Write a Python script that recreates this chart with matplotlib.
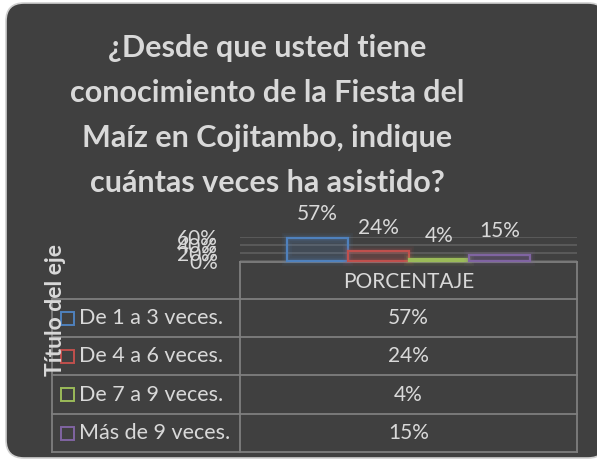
import matplotlib.pyplot as plt
from matplotlib.patches import FancyBboxPatch, Rectangle

# data
categories = ['De 1 a 3 veces.', 'De 4 a 6 veces.', 'De 7 a 9 veces.', 'Más de 9 veces.']
values = [57, 24, 4, 15]
value_labels = ['57%', '24%', '4%', '15%']
colors = ['#4f81bd', '#c0504d', '#9bbb59', '#8064a2']
column_name = 'PORCENTAJE'
y_ticks = [0, 20, 40, 60]
title_lines = ['¿Desde que usted tiene', 'conocimiento de la Fiesta del',
               'Maíz en Cojitambo, indique', 'cuántas veces ha asistido?']

W, H = 597, 461
BG = '#404040'
TXT = '#d9d9d9'
LINE = '#7f7f7f'

plt.rcParams['font.family'] = ['Lato', 'DejaVu Sans']

fig = plt.figure(figsize=(W / 100, H / 100), dpi=100)
fig.patch.set_facecolor('white')

# overlay in pixel coordinates
ov = fig.add_axes([0, 0, 1, 1])
ov.set_xlim(0, W)
ov.set_ylim(H, 0)
ov.axis('off')
ov.add_patch(FancyBboxPatch((6, 3), 600, 455, boxstyle='round,pad=0,rounding_size=18',
                            facecolor=BG, edgecolor='#d0d0d0', linewidth=1.2))

for i, line in enumerate(title_lines):
    ov.text(267, 57 + i * 45, line, ha='center', va='baseline', fontsize=22,
            fontweight='bold', color=TXT)

# chart area
x0, x1, ytop, ybot = 240, 577, 237, 261
ax = fig.add_axes([x0 / W, 1 - ybot / H, (x1 - x0) / W, (ybot - ytop) / H])
ax.set_facecolor('none')
ax.set_xlim(-0.5, 0.5)
ax.set_ylim(0, 60)
for s in ax.spines.values():
    s.set_visible(False)
ax.set_xticks([])
ax.set_yticks(y_ticks)
ax.set_yticklabels([f'{t}%' for t in y_ticks], color=TXT, fontsize=15)
ax.tick_params(axis='y', length=0, pad=16)
ax.yaxis.grid(True, color='#5f5f5f', linewidth=1.2)
ax.set_axisbelow(True)

bw = 0.181
offsets = [(i - 1.5) * bw for i in range(len(values))]
for off, v, c, lab in zip(offsets, values, colors, value_labels):
    for lw, a in [(7, 0.08), (4, 0.12)]:
        ax.bar(off, v, width=bw, facecolor='none', edgecolor=c, linewidth=lw, alpha=a, clip_on=False)
    ax.bar(off, v, width=bw, facecolor=c, alpha=0.18, edgecolor='none', clip_on=False)
    ax.bar(off, v, width=bw, facecolor='none', edgecolor=c, linewidth=1.6, clip_on=False)
    ax.annotate(lab, (off, v), xytext=(0, 10), textcoords='offset points', ha='center',
                va='bottom', color=TXT, fontsize=15)

# data table
row_edges = [262, 299, 337, 375, 414, 452]
left = 52
ov.plot([x0, x1], [262, 262], color=LINE, lw=1.3)
ov.plot([x0, x0], [262, 452], color=LINE, lw=1.3)
ov.plot([x1, x1], [262, 452], color=LINE, lw=1.3)
ov.plot([left, left], [299, 452], color=LINE, lw=1.3)
for y in row_edges[1:]:
    ov.plot([left, x1], [y, y], color=LINE, lw=1.3)
ov.text((x0 + x1) / 2, (row_edges[0] + row_edges[1]) / 2 + 1, column_name, ha='center',
        va='center', color=TXT, fontsize=15)
for i, (cat, lab, c) in enumerate(zip(categories, value_labels, colors)):
    yc = (row_edges[i + 1] + row_edges[i + 2]) / 2
    ov.add_patch(Rectangle((61, yc - 6.5), 13, 13, facecolor='none', edgecolor=c, lw=1.4))
    ov.text(79, yc, cat, ha='left', va='center', color=TXT, fontsize=15.5)
    ov.text((x0 + x1) / 2, yc, lab, ha='center', va='center', color=TXT, fontsize=15)

ov.text(55, 310, 'Título del eje', rotation=90, ha='center', va='center', color=TXT,
        fontsize=16.5, fontweight='bold')

fig.savefig('out.png', dpi=100, facecolor='white')
